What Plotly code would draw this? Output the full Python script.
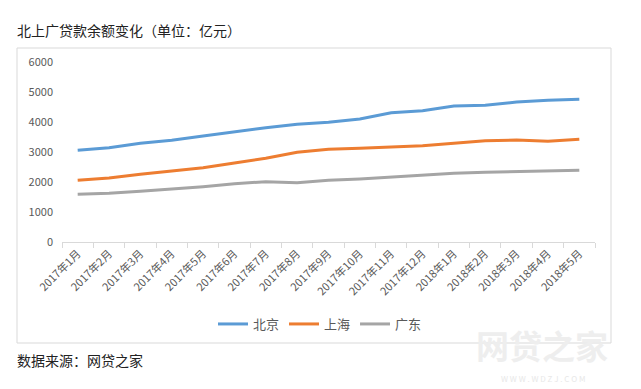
import plotly.graph_objects as go

months = ["2017年1月", "2017年2月", "2017年3月", "2017年4月", "2017年5月", "2017年6月",
          "2017年7月", "2017年8月", "2017年9月", "2017年10月", "2017年11月", "2017年12月",
          "2018年1月", "2018年2月", "2018年3月", "2018年4月", "2018年5月"]
beijing = [3056, 3144, 3289, 3389, 3533, 3678, 3811, 3922, 3989, 4100, 4311, 4378,
           4533, 4556, 4667, 4722, 4756]
shanghai = [2056, 2133, 2256, 2378, 2478, 2633, 2789, 2989, 3089, 3122, 3156, 3211,
            3289, 3378, 3400, 3356, 3422]
guangdong = [1589, 1622, 1689, 1756, 1844, 1944, 2011, 1978, 2056, 2100, 2167, 2233,
             2289, 2322, 2344, 2378, 2389]
series_names = ["北京", "上海", "广东"]
colors = ["#5b9bd5", "#ed7d31", "#a5a5a5"]

FONT = "Microsoft YaHei, Noto Sans CJK SC, sans-serif"

fig = go.Figure()
for name, vals, c in zip(series_names, [beijing, shanghai, guangdong], colors):
    fig.add_trace(go.Scatter(x=months, y=vals, name=name, mode="lines",
                             line=dict(color=c, width=3)))

# page offset from browser body margin
O = 8
W, H = 641 - O, 389 - O
# plot area in window pixels: x 62..595, y 62..242
L, R, T, B = 62, 595, 62, 242
def px(x):
    return (x - L) / (R - L)
def py(y):
    return (B - y) / (B - T)

fig.update_layout(
    width=W, height=H,
    margin=dict(l=L - O, r=W - (R - O), t=T - O, b=H - (B - O), pad=0),
    paper_bgcolor="white", plot_bgcolor="white",
    font=dict(family=FONT, color="#595959", size=11),
    showlegend=True,
    legend=dict(orientation="h", x=px(320), y=py(324), xanchor="center", yanchor="middle",
                font=dict(size=13, color="#595959"), itemwidth=30, tracegroupgap=0),
    xaxis=dict(type="category", showgrid=False, showline=True, linecolor="#d9d9d9",
               linewidth=1, ticks="outside", tickson="boundaries", ticklen=5,
               tickcolor="#d9d9d9", tickangle=-45, tickfont=dict(size=11, color="#595959"),
               range=[-0.5, 16.5], fixedrange=True),
    yaxis=dict(range=[0, 6000], dtick=1000, showgrid=False, showline=False, zeroline=False,
               tickfont=dict(size=11, color="#595959"), ticks="", ticklabelstandoff=8,
               fixedrange=True),
    shapes=[dict(type="rect", xref="paper", yref="paper",
                 x0=px(17), x1=px(611), y0=py(343), y1=py(48),
                 line=dict(color="#d9d9d9", width=1), layer="below")],
    annotations=[
        dict(text="北上广贷款余额变化（单位：亿元）", xref="paper", yref="paper",
             x=px(15), y=py(30), xanchor="left", yanchor="middle", showarrow=False,
             font=dict(size=14, color="#222222", family=FONT)),
        dict(text="数据来源：网贷之家", xref="paper", yref="paper",
             x=px(15), y=py(360), xanchor="left", yanchor="middle", showarrow=False,
             font=dict(size=14, color="#222222", family=FONT)),
        dict(text="<b>网贷之家</b>", xref="paper", yref="paper",
             x=px(542), y=py(345), xanchor="center", yanchor="middle", showarrow=False,
             font=dict(size=33, color="#eeeeee", family=FONT)),
        dict(text="W W W . W D Z J . C O M", xref="paper", yref="paper",
             x=px(543), y=py(378), xanchor="center", yanchor="middle", showarrow=False,
             font=dict(size=8, color="#e8e8e8", family=FONT)),
    ],
)

fig.write_html("out.html")
